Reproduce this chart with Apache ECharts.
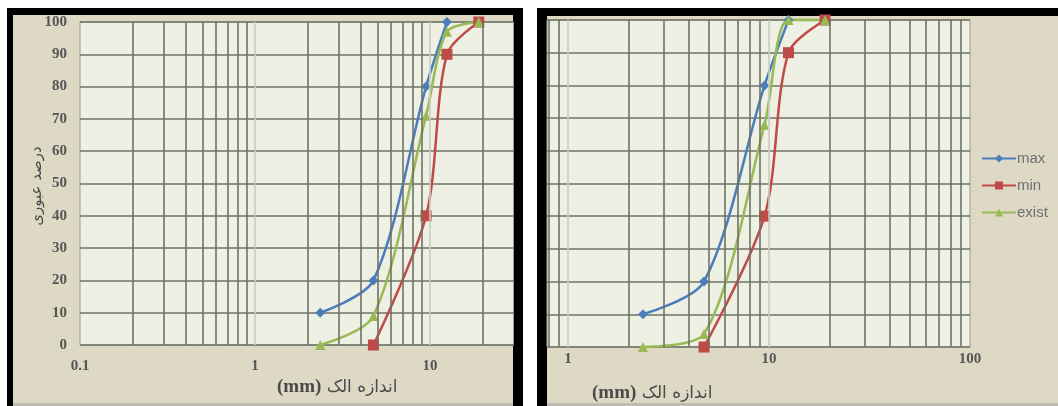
<!DOCTYPE html>
<html>
<head>
<meta charset="utf-8">
<script src="https://cdn.jsdelivr.net/npm/echarts@6/dist/echarts.min.js"></script>
<style>
  html, body { margin: 0; padding: 0; background: #ffffff; }
  #chart { width: 1058px; height: 406px; }
</style>
</head>
<body>
<div id="chart"></div>
<script>
// ---- data ----
const sieveSizes = [2.36, 4.75, 9.5, 12.5, 19];
const leftMax   = [10, 20, 80, 100, null];
const leftMin   = [null, 0, 40, 90, 100];
const leftExist = [0, 9, 71, 97, 100];
const rightMax   = [10, 20, 80, 100, null];
const rightMin   = [null, 0, 40, 90, 100];
const rightExist = [0, 4, 68, 100, 100];
const seriesNames = ['max', 'min', 'exist'];
const leftXLabels  = [0.1, 1, 10];
const rightXLabels = [1, 10, 100];
const leftMinorLines  = [0.2, 0.3, 0.4, 0.5, 0.6, 0.7, 0.8, 0.9, 2, 3, 4, 5, 6, 7, 8, 9, 20];
const leftMajorLines  = [1, 10];
const rightMinorLines = [0.8, 0.9, 2, 3, 4, 5, 6, 7, 8, 9, 20, 30, 40, 50, 60, 70, 80, 90];
const rightMajorLines = [1, 10];
const xAxisTitle = 'اندازه الک';
const yAxisTitle = 'درصد عبوری';

// ---- style ----
const colors = { max: '#4A7EBB', min: '#BE4B48', exist: '#98B954' };
const symbols = { max: 'diamond', min: 'rect', exist: 'triangle' };
const symbolSizes = { max: 10, min: 11, exist: 10 };
const plotBg = '#EDF0E2';
const frameBg = '#DDD9C5';
const minorColor = '#6E7266';
const majorColor = '#C9CCC2';
const serif = '"Liberation Serif", "DejaVu Serif", serif';

function pairs(vals) {
  const out = [];
  sieveSizes.forEach((s, i) => { if (vals[i] !== null) out.push([s, vals[i]]); });
  return out;
}

function gridLines(idx, minor, major) {
  return {
    type: 'line', xAxisIndex: idx, yAxisIndex: idx, data: [], silent: true, z: 1,
    markLine: {
      silent: true, symbol: ['none', 'none'], animation: false,
      label: { show: false },
      data: minor.map(v => ({ xAxis: v, lineStyle: { color: minorColor, width: 1.6, type: 'solid' } }))
        .concat(major.map(v => ({ xAxis: v, lineStyle: { color: majorColor, width: 1.6, type: 'solid' } })))
    }
  };
}

function dataSeries(idx, name, vals) {
  return {
    type: 'line', name: name, xAxisIndex: idx, yAxisIndex: idx, z: 3,
    data: pairs(vals), smooth: 0.3, clip: false,
    symbol: symbols[name], symbolSize: symbolSizes[name], showSymbol: true,
    itemStyle: { color: colors[name] },
    lineStyle: { color: colors[name], width: 2.5 },
    animation: false
  };
}

const titleRich = {
  a: { fontFamily: serif, fontWeight: 'bold', fontSize: 19, fill: '#4a4a4a' },
  b: { fontFamily: '"DejaVu Sans", sans-serif', fontSize: 17, fill: '#4a4a4a' }
};

const chart = echarts.init(document.getElementById('chart'), null, { renderer: 'canvas' });

const option = {
  backgroundColor: '#ffffff',
  animation: false,
  graphic: [
    // left panel frame
    { type: 'rect', z: -10, shape: { x: 7, y: 8, width: 516, height: 398 }, style: { fill: '#000' } },
    { type: 'rect', z: -9, shape: { x: 13, y: 15, width: 500, height: 391 }, style: { fill: frameBg } },
    { type: 'rect', z: -8, shape: { x: 13, y: 403, width: 500, height: 3 }, style: { fill: '#BDBBB2' } },
    // right panel frame
    { type: 'rect', z: -10, shape: { x: 537, y: 8, width: 521, height: 398 }, style: { fill: '#000' } },
    { type: 'rect', z: -9, shape: { x: 547, y: 16, width: 511, height: 390 }, style: { fill: frameBg } },
    { type: 'rect', z: -8, shape: { x: 547, y: 403, width: 511, height: 3 }, style: { fill: '#BDBBB2' } },
    // axis titles
    {
      type: 'text', left: 277, top: 378, z: 10,
      style: { text: '{a|(mm)}{b| ' + xAxisTitle + '}', rich: titleRich }
    },
    {
      type: 'text', left: 592, top: 384, z: 10,
      style: { text: '{a|(mm)}{b| ' + xAxisTitle + '}', rich: titleRich }
    },
    {
      type: 'text', x: 37, y: 186, rotation: Math.PI / 2, z: 10,
      style: {
        text: yAxisTitle, fontFamily: '"DejaVu Sans", sans-serif', fontSize: 15,
        fill: '#4a4a4a', align: 'center', verticalAlign: 'middle'
      }
    }
  ],
  legend: {
    data: seriesNames,
    orient: 'vertical',
    left: 976, top: 146,
    itemWidth: 34, itemHeight: 10, itemGap: 12,
    textStyle: { color: '#707070', fontSize: 15, fontFamily: '"Liberation Sans", Arial, sans-serif', padding: [0, 0, 0, -4] }
  },
  grid: [
    { left: 80, top: 22, width: 433.5, height: 323, show: true, backgroundColor: plotBg, borderColor: '#9A9C90', borderWidth: 1 },
    { left: 547, top: 20, width: 423, height: 327, show: true, backgroundColor: plotBg, borderColor: '#9A9C90', borderWidth: 1 }
  ],
  xAxis: [
    {
      gridIndex: 0, type: 'log', logBase: 10, min: 0.1, max: 30,
      axisLine: { show: false }, axisTick: { show: false }, splitLine: { show: false },
      axisLabel: {
        customValues: leftXLabels, showMinLabel: true, showMaxLabel: true,
        margin: 14, color: '#555', fontFamily: serif, fontWeight: 'bold', fontSize: 15,
        formatter: v => String(+Number(v).toPrecision(3))
      }
    },
    {
      gridIndex: 1, type: 'log', logBase: 10, min: 0.786, max: 100,
      axisLine: { show: false }, axisTick: { show: false }, splitLine: { show: false },
      axisLabel: {
        customValues: rightXLabels, showMinLabel: true, showMaxLabel: true,
        margin: 5, color: '#555', fontFamily: serif, fontWeight: 'bold', fontSize: 15,
        formatter: v => String(+Number(v).toPrecision(3))
      }
    }
  ],
  yAxis: [
    {
      gridIndex: 0, type: 'value', min: 0, max: 100, interval: 10,
      axisLine: { show: false }, axisTick: { show: false },
      splitLine: { show: true, lineStyle: { color: minorColor, width: 1.6 } },
      axisLabel: { margin: 13, color: '#555', fontFamily: serif, fontWeight: 'bold', fontSize: 15 }
    },
    {
      gridIndex: 1, type: 'value', min: 0, max: 100, interval: 10,
      axisLine: { show: false }, axisTick: { show: false },
      splitLine: { show: true, lineStyle: { color: minorColor, width: 1.6 } },
      axisLabel: { show: false }
    }
  ],
  series: [
    gridLines(0, leftMinorLines, leftMajorLines),
    gridLines(1, rightMinorLines, rightMajorLines),
    dataSeries(0, 'max', leftMax),
    dataSeries(0, 'min', leftMin),
    dataSeries(0, 'exist', leftExist),
    dataSeries(1, 'max', rightMax),
    dataSeries(1, 'min', rightMin),
    dataSeries(1, 'exist', rightExist)
  ]
};
chart.setOption(option);
</script>
</body>
</html>
